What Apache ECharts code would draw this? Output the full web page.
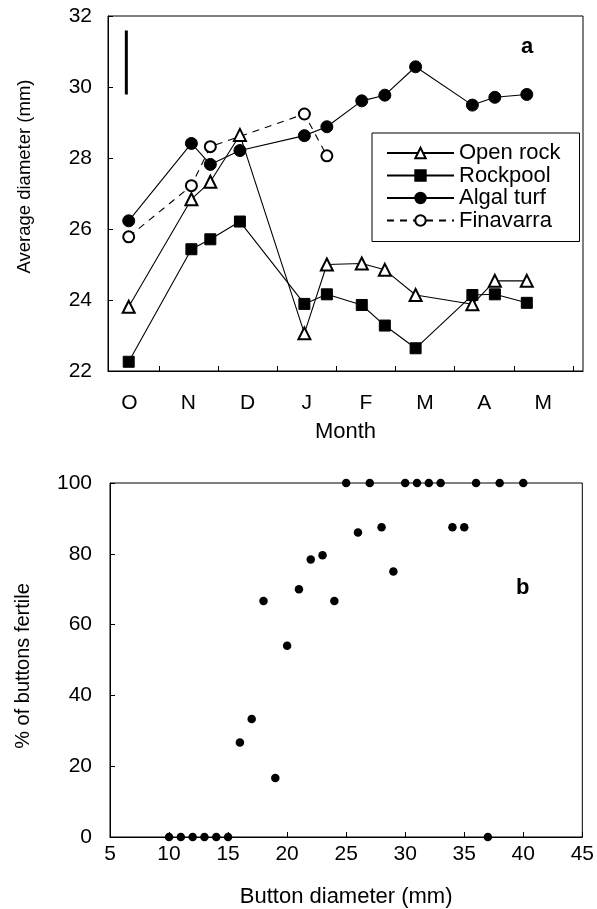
<!DOCTYPE html>
<html>
<head>
<meta charset="utf-8">
<title>Button diameter and fertility</title>
<script src="https://cdn.jsdelivr.net/npm/echarts@6/dist/echarts.min.js"></script>
<style>
  html, body { margin: 0; padding: 0; background: #fff; }
  #chart { width: 597px; height: 909px; }
</style>
</head>
<body>
<div id="chart"></div>
<script>
// panel a: month axis, tick k marks the start of month k (O = 0..1)
var MONTHS = ['O', 'N', 'D', 'J', 'F', 'M', 'A', 'M'];
var sampleMonth = [0.49, 1.55, 1.87, 2.37, 3.46, 3.84, 4.43, 4.82, 5.34, 6.30, 6.68, 7.22];
var openRock  = [23.81, 26.84, 27.33, 28.65, 23.06, 25.00, 25.03, 24.85, 24.14, 23.88, 24.54, 24.54];
var rockpool  = [22.26, 25.43, 25.71, 26.21, 23.89, 24.16, 23.86, 23.28, 22.64, 24.14, 24.16, 23.92];
var algalTurf = [26.23, 28.41, 27.82, 28.21, 28.63, 28.88, 29.61, 29.77, 30.57, 29.49, 29.71, 29.79];
var finavarraMonth = [0.49, 1.55, 1.87, 3.46, 3.84];
var finavarra      = [25.78, 27.22, 28.32, 29.24, 28.06];
// vertical bar in the top left corner
var barMonth = [0.45, 0.45];
var barValue = [29.79, 31.59];

// panel b
var buttonDiameter = [10, 11, 12, 13, 14, 15, 16, 17, 18, 19, 20, 21, 22, 23, 24,
                      25, 26, 27, 28, 29, 30, 31, 32, 33, 34, 35, 36, 37, 38, 40];
var pctFertile     = [0, 0, 0, 0, 0, 0, 26.7, 33.3, 66.7, 16.7, 54, 70, 78.4, 79.6, 66.7,
                      100, 86, 100, 87.5, 75, 100, 100, 100, 100, 87.5, 87.5, 100, 0, 100, 100];

var INK = '#000';
var FONT = '"Liberation Sans", Arial, Helvetica, sans-serif';

function pairs(xs, ys) {
  return xs.map(function (x, i) { return [x, ys[i]]; });
}

function monthSeries(name, xs, ys, symbol, size, dashed) {
  return {
    type: 'line', name: name, xAxisIndex: 0, yAxisIndex: 0,
    data: pairs(xs, ys),
    symbol: symbol, symbolSize: size,
    lineStyle: { color: INK, width: 1.1, type: dashed ? [7, 6] : 'solid' },
    itemStyle: { color: INK, borderColor: INK, borderWidth: 1, opacity: 1 },
    emphasis: { disabled: true },
  };
}

var ticksA = [1, 2, 3, 4, 5, 6, 7, 8];
var labelsA = ticksA.map(function (t) { return t - 0.5; });

var chart = echarts.init(document.getElementById('chart'), null, { renderer: 'canvas' });
chart.setOption({
  backgroundColor: '#fff',
  animation: false,
  textStyle: { fontFamily: FONT, color: INK },
  title: [
    { text: 'a', left: 521, top: 36, padding: 0, textStyle: { fontSize: 22, fontWeight: 'bold', color: INK, fontFamily: FONT } },
    { text: 'b', left: 516, top: 577, padding: 0, textStyle: { fontSize: 22, fontWeight: 'bold', color: INK, fontFamily: FONT } },
  ],
  legend: {
    data: ['Open rock', 'Rockpool', 'Algal turf', 'Finavarra'],
    orient: 'vertical', left: 372, top: 133,
    itemWidth: 67, itemHeight: 13, itemGap: 0.5,
    padding: [9, 19, 10, 14],
    borderColor: INK, borderWidth: 1,
    selectedMode: false,
    textStyle: { fontSize: 22, color: INK, fontFamily: FONT },
  },
  grid: [
    { left: 108, top: 16, width: 475, height: 355, show: true, borderColor: INK, borderWidth: 1 },
    { left: 110, top: 483, width: 473, height: 355, show: true, borderColor: INK, borderWidth: 1 },
  ],
  xAxis: [
    {
      gridIndex: 0, type: 'value', min: 0.14, max: 8.17,
      axisLine: { lineStyle: { color: INK } },
      axisTick: { inside: true, length: 5, customValues: ticksA, lineStyle: { color: INK } },
      axisLabel: {
        customValues: labelsA, margin: 22, fontSize: 21, color: INK,
        formatter: function (v) { return MONTHS[Math.floor(v)]; },
      },
      splitLine: { show: false },
      name: 'Month', nameLocation: 'middle', nameGap: 50,
      nameTextStyle: { fontSize: 22, color: INK },
    },
    {
      gridIndex: 1, type: 'value', min: 5, max: 45, interval: 5,
      axisLine: { lineStyle: { color: INK } },
      axisTick: { inside: true, length: 5, lineStyle: { color: INK } },
      axisLabel: { margin: 7, fontSize: 21, color: INK },
      splitLine: { show: false },
      name: 'Button diameter (mm)', nameLocation: 'middle', nameGap: 49,
      nameTextStyle: { fontSize: 22, color: INK },
    },
  ],
  yAxis: [
    {
      gridIndex: 0, type: 'value', min: 22, max: 32, interval: 2,
      axisLine: { show: true, lineStyle: { color: INK } },
      axisTick: { show: true, inside: true, length: 5, lineStyle: { color: INK } },
      axisLabel: { margin: 16, fontSize: 21, color: INK },
      splitLine: { show: false },
      name: 'Average diameter (mm)', nameLocation: 'middle', nameGap: 74,
      nameTextStyle: { fontSize: 18.5, color: INK, padding: [0, 0, 0, 34] },
    },
    {
      gridIndex: 1, type: 'value', min: 0, max: 100, interval: 20,
      axisLine: { show: true, lineStyle: { color: INK } },
      axisTick: { show: true, inside: true, length: 5, lineStyle: { color: INK } },
      axisLabel: { margin: 18, fontSize: 21, color: INK },
      splitLine: { show: false },
      name: '% of buttons fertile', nameLocation: 'middle', nameGap: 77,
      nameTextStyle: { fontSize: 20, color: INK, padding: [0, 12, 0, 0] },
    },
  ],
  series: [
    monthSeries('Open rock', sampleMonth, openRock, 'emptyTriangle', 12, false),
    monthSeries('Rockpool', sampleMonth, rockpool, 'rect', 11, false),
    monthSeries('Algal turf', sampleMonth, algalTurf, 'circle', 12, false),
    monthSeries('Finavarra', finavarraMonth, finavarra, 'emptyCircle', 11, true),
    {
      type: 'line', name: 'bar', xAxisIndex: 0, yAxisIndex: 0,
      data: pairs(barMonth, barValue), symbol: 'none', silent: true,
      lineStyle: { color: INK, width: 3 },
    },
    {
      type: 'scatter', name: 'fertile', xAxisIndex: 1, yAxisIndex: 1,
      data: pairs(buttonDiameter, pctFertile), symbolSize: 8.5, clip: false,
      itemStyle: { color: INK, opacity: 1 },
      emphasis: { disabled: true },
    },
  ],
});
</script>
</body>
</html>
